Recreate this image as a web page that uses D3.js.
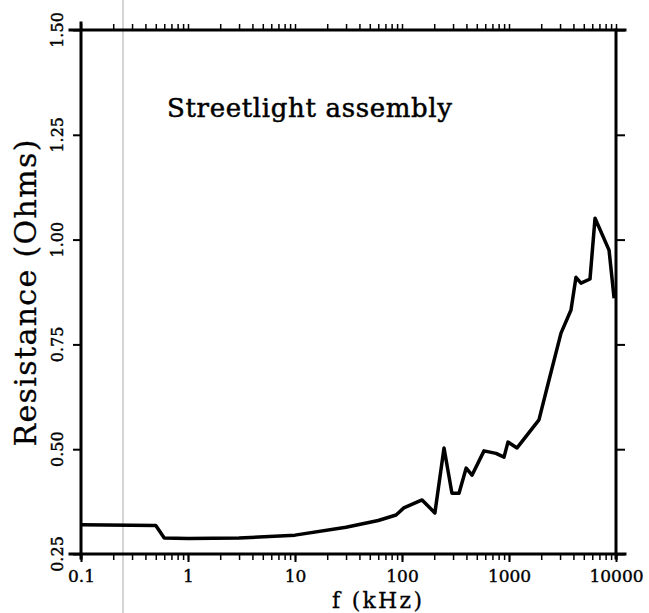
<!DOCTYPE html>
<html><head><meta charset="utf-8">
<script src="https://cdn.jsdelivr.net/npm/d3@7"></script>
<style>body{margin:0;background:#fff}svg{display:block}</style>
</head><body>
<svg id="c" width="649" height="613"></svg>
<script>
const freqKHz = [0.1, 0.5, 0.6, 1, 3, 10, 30, 60, 88, 104, 154, 203, 247, 293, 341, 398, 451, 584, 756, 898, 978, 1189, 1905, 2366, 3062, 3796, 4226, 4710, 5715, 6370, 8610, 9600];
const resistance = [0.32, 0.318, 0.288, 0.287, 0.288, 0.295, 0.314, 0.33, 0.343, 0.36, 0.379, 0.348, 0.503, 0.395, 0.395, 0.455, 0.438, 0.496, 0.49, 0.481, 0.517, 0.503, 0.57, 0.665, 0.777, 0.832, 0.91, 0.896, 0.906, 1.051, 0.975, 0.86];
const xTickVals = [0.1, 1, 10, 100, 1000, 10000];
const xTickLabels = ["0.1", "1", "10", "100", "1000", "10000"];
const yTickVals = [0.25, 0.50, 0.75, 1.00, 1.25, 1.50];
const yTickLabels = ["0.25", "0.50", "0.75", "1.00", "1.25", "1.50"];
const title = "Streetlight assembly";
const xTitle = "f (kHz)";
const yTitle = "Resistance (Ohms)";

const svg = d3.select("#c");
const L = 81, R = 616, T = 30, B = 554;
const x = d3.scaleLog().domain([0.1, 10000]).range([L, R]);
const y = d3.scaleLinear().domain([0.25, 1.5]).range([B, T]);
const serif = "'DejaVu Serif', 'Liberation Serif', serif";

// scanner artifact line
svg.append("line").attr("x1", 123).attr("x2", 123).attr("y1", 0).attr("y2", 613)
  .attr("stroke", "#aaa").attr("stroke-width", 1);

// minor ticks
const minor = [];
for (let d = 0.1; d < 10000; d *= 10) for (let k = 1; k < 10; k++) minor.push(d * k);
minor.push(10000);
const bottomAx = d3.axisBottom(x).tickValues(minor).tickSize(6).tickFormat("");
const topAx = d3.axisTop(x).tickValues(minor).tickSize(6).tickFormat("");
const gb = svg.append("g").attr("transform", `translate(0,${B})`).call(bottomAx);
const gt = svg.append("g").attr("transform", `translate(0,${T})`).call(topAx);
[gb, gt].forEach(g => { g.select(".domain").remove(); g.selectAll("line").attr("stroke", "#000").attr("stroke-width", 1.5); });

// bottom tick labels
const gbl = svg.append("g").attr("transform", `translate(0,${B})`)
  .call(d3.axisBottom(x).tickValues(xTickVals).tickSize(8).tickFormat((d, i) => xTickLabels[i]));
gbl.select(".domain").remove();
gbl.selectAll("line").attr("stroke", "#000").attr("stroke-width", 2);
gbl.selectAll("text").attr("font-family", serif).attr("font-size", 17).attr("fill", "#000")
  .attr("stroke", "#000").attr("stroke-width", 0.4).attr("dy", "0.98em");

// left axis
const gl = svg.append("g").attr("transform", `translate(${L},0)`)
  .call(d3.axisLeft(y).tickValues(yTickVals).tickSize(8).tickFormat(""));
gl.select(".domain").remove();
gl.selectAll("line").attr("stroke", "#000").attr("stroke-width", 2);
const glab = svg.append("g");
yTickVals.forEach((v, i) => {
  glab.append("text").attr("transform", `translate(63,${y(v)}) rotate(-90)`)
    .attr("text-anchor", "middle").attr("font-family", serif).attr("font-size", 16)
    .attr("stroke", "#000").attr("stroke-width", 0.4)
    .text(yTickLabels[i]);
});
// right axis
const gr = svg.append("g").attr("transform", `translate(${R},0)`)
  .call(d3.axisRight(y).tickValues(yTickVals).tickSize(9).tickFormat(""));
gr.select(".domain").remove();
gr.selectAll("line").attr("stroke", "#000").attr("stroke-width", 2);

// frame lines
const fr = svg.append("g").attr("stroke", "#000").attr("stroke-width", 3).attr("stroke-linecap", "square");
fr.append("line").attr("x1", L - 11).attr("x2", R + 9).attr("y1", T).attr("y2", T);
fr.append("line").attr("x1", L - 11).attr("x2", R + 9).attr("y1", B).attr("y2", B);
fr.append("line").attr("x1", L).attr("x2", L).attr("y1", T - 7).attr("y2", B + 4);
fr.append("line").attr("x1", R).attr("x2", R).attr("y1", T).attr("y2", B + 4);

// curve
const line = d3.line().x((d, i) => x(freqKHz[i])).y(d => y(d));
svg.append("path").datum(resistance).attr("d", line)
  .attr("fill", "none").attr("stroke", "#000").attr("stroke-width", 3.5)
  .attr("stroke-linejoin", "round");

// texts
svg.append("text").attr("x", 167).attr("y", 117).attr("font-family", serif)
  .attr("font-size", 26).attr("stroke", "#000").attr("stroke-width", 0.5)
  .attr("textLength", 285).attr("lengthAdjust", "spacing").text(title);
svg.append("text").attr("x", 377).attr("y", 608).attr("text-anchor", "middle")
  .attr("font-family", serif).attr("font-size", 22).attr("stroke", "#000").attr("stroke-width", 0.3)
  .attr("textLength", 90).attr("lengthAdjust", "spacing").text(xTitle);
svg.append("text").attr("transform", "translate(36,293) rotate(-90)")
  .attr("text-anchor", "middle").attr("font-family", serif).attr("font-size", 30)
  .attr("stroke", "#000").attr("stroke-width", 0.3)
  .attr("textLength", 307).attr("lengthAdjust", "spacing").text(yTitle);
</script>
</body></html>
